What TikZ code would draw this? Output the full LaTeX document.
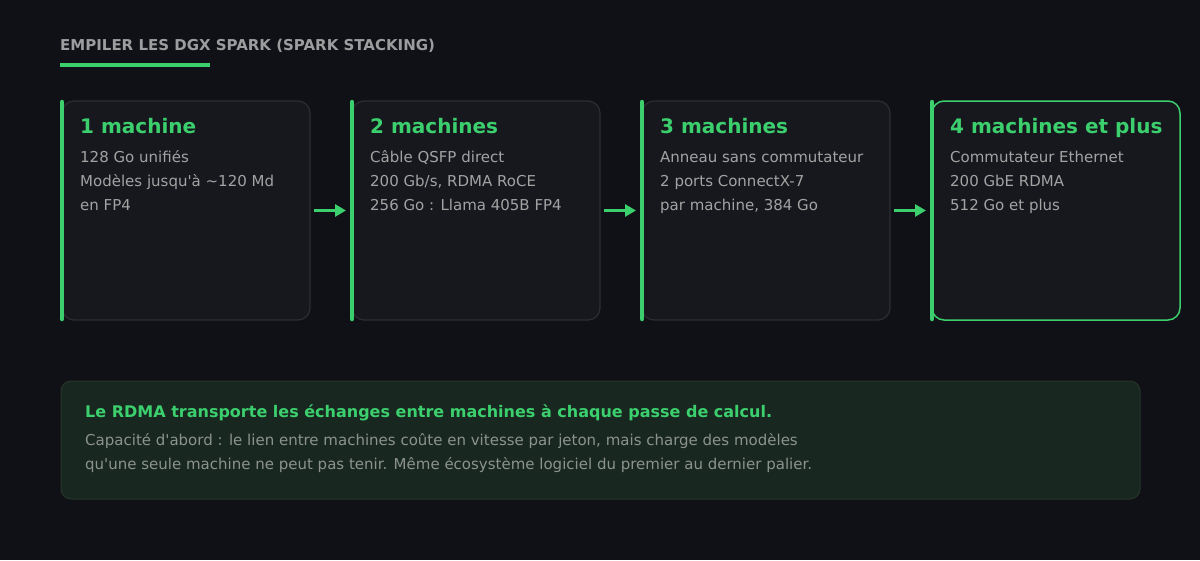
\documentclass[tikz,border=0pt]{standalone}
\usepackage{fontspec}
\setmainfont{DejaVu Sans}[Ligatures=TeXOff]
\usetikzlibrary{arrows.meta,positioning}

\definecolor{bgdark}{HTML}{101116}
\definecolor{cardfill}{HTML}{17181E}
\definecolor{cardline}{HTML}{2C2E33}
\definecolor{sparkgreen}{HTML}{3CCF6E}
\definecolor{titlegray}{HTML}{9B9D9F}
\definecolor{bodygray}{HTML}{A3A3A3}
\definecolor{notefill}{HTML}{18271F}
\definecolor{noteline}{HTML}{25352B}
\definecolor{notegray}{HTML}{8C938E}

\begin{document}
\begin{tikzpicture}[x=1pt, y=-1pt,
    card/.style={draw=cardline, fill=cardfill, line width=1.2pt, rounded corners=12pt,
      minimum width=248pt, minimum height=219pt, inner sep=0pt, outer sep=0pt},
    lastcard/.style={card, draw=sparkgreen, line width=1.5pt},
    bar/.style={sparkgreen, line width=4.5pt, line cap=round},
    arrow/.style={-{Triangle[length=11pt, width=12pt]}, sparkgreen, line width=3pt,
      shorten <=4pt, shorten >=6pt},
    heading/.style={anchor=base west, inner sep=0pt, text=sparkgreen,
      font=\fontsize{20}{24}\selectfont\bfseries},
    body/.style={anchor=base west, inner sep=0pt, text=bodygray, align=left,
      font=\fontsize{15}{24}\selectfont}
  ]
    \fill[bgdark] (0,0) rectangle (1200,560);
    \useasboundingbox (0,0) rectangle (1200,560);

    % title
    \node[anchor=base west, inner sep=0pt, text=titlegray,
      font=\fontsize{15}{18}\selectfont\bfseries] (title) at (60,50)
      {EMPILER LES DGX SPARK (SPARK STACKING)};
    \draw[sparkgreen, line width=4pt] (60,64.5) -- (210,64.5);

    % the four steps
    \node[card, anchor=north west] (one) at (62,101) {};
    \node[card, right=42pt of one] (two) {};
    \node[card, right=42pt of two] (three) {};
    \node[lastcard, right=42pt of three] (four) {};

    \foreach \c in {one,two,three,four}
      \draw[bar] ([yshift=-1pt]\c.north west) -- ([yshift=1pt]\c.south west);

    \node[heading] (oneh) at ([xshift=18pt, yshift=-32pt]one.north west) {1 machine};
    \node[body] (oneb) at ([xshift=18pt, yshift=-109pt]one.north west)
      {128 Go unifiés\\Modèles jusqu'à \textasciitilde 120 Md\\en FP4};
    \node[heading] (twoh) at ([xshift=18pt, yshift=-32pt]two.north west) {2 machines};
    \node[body] (twob) at ([xshift=18pt, yshift=-109pt]two.north west)
      {Câble QSFP direct\\200 Gb/s, RDMA RoCE\\256 Go : Llama 405B FP4};
    \node[heading] (threeh) at ([xshift=18pt, yshift=-32pt]three.north west) {3 machines};
    \node[body] (threeb) at ([xshift=18pt, yshift=-109pt]three.north west)
      {Anneau sans commutateur\\2 ports ConnectX-7\\par machine, 384 Go};
    \node[heading] (fourh) at ([xshift=18pt, yshift=-32pt]four.north west) {4 machines et plus};
    \node[body] (fourb) at ([xshift=18pt, yshift=-109pt]four.north west)
      {Commutateur Ethernet\\200 GbE RDMA\\512 Go et plus};

    \draw[arrow] (one) -- (two);
    \draw[arrow] (two) -- (three);
    \draw[arrow] (three) -- (four);

    % note
    \node[draw=noteline, fill=notefill, line width=1pt, rounded corners=10pt,
      minimum width=1079pt, minimum height=118pt, inner sep=0pt, outer sep=0pt,
      anchor=north west] (note) at (61,381) {};
    \node[anchor=base west, inner sep=0pt, text=sparkgreen,
      font=\fontsize{16}{20}\selectfont\bfseries] (noteh)
      at ([xshift=24pt, yshift=-36pt]note.north west)
      {Le RDMA transporte les échanges entre machines à chaque passe de calcul.};
    \node[body, text=notegray] (noteb) at ([xshift=24pt, yshift=-88pt]note.north west)
      {Capacité d'abord : le lien entre machines coûte en vitesse par jeton, mais charge des modèles\\
       qu'une seule machine ne peut pas tenir. Même écosystème logiciel du premier au dernier palier.};
\end{tikzpicture}
\end{document}
